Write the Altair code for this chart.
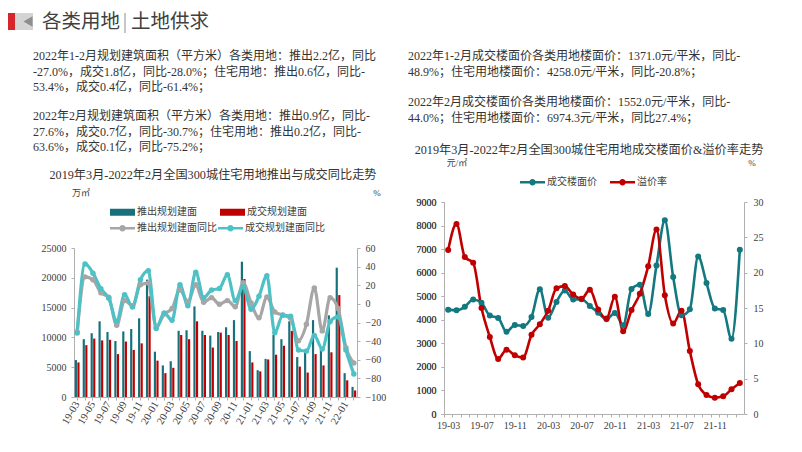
import json
import altair as alt
import pandas as pd

# ---------------- data ----------------
MONTHS = ["19-03", "19-04", "19-05", "19-06", "19-07", "19-08", "19-09", "19-10", "19-11", "19-12",
          "20-01", "20-02", "20-03", "20-04", "20-05", "20-06", "20-07", "20-08", "20-09", "20-10", "20-11", "20-12",
          "21-01", "21-02", "21-03", "21-04", "21-05", "21-06", "21-07", "21-08", "21-09", "21-10", "21-11", "21-12",
          "22-01", "22-02"]
LEFT_LABELS = ["19-03", "19-05", "19-07", "19-09", "19-11", "20-01", "20-03", "20-05", "20-07",
               "20-09", "20-11", "21-01", "21-03", "21-05", "21-07", "21-09", "21-11", "22-01"]
RIGHT_LABELS = ["19-03", "19-07", "19-11", "20-03", "20-07", "20-11", "21-03", "21-07", "21-11"]

BAR_SERIES = ["推出规划建面", "成交规划建面"]
LAUNCH = [6200, 9700, 10700, 12700, 10900, 9400, 11000, 11400, 13200, 19700,
          7600, 5300, 6000, 11100, 11200, 15200, 11100, 10300, 10900, 11700, 12900, 22700,
          7700, 4500, 6400, 10400, 9700, 12700, 6700, 7600, 12900, 8000, 13700, 21700,
          4000, 1700]
DEAL = [5800, 8700, 9800, 9500, 9600, 7200, 9300, 7900, 9000, 16900,
        6100, 4000, 4900, 10400, 9700, 12700, 10400, 8300, 10800, 10400, 9400, 19800,
        5800, 4300, 6300, 7100, 8600, 11100, 5100, 4100, 7200, 5300, 7500, 17100,
        2800, 1100]

YOY_SERIES = ["推出规划建面同比", "成交规划建面同比"]
LAUNCH_YOY = [-30, 29, 26, 12, 7, -23, 3.5, -2, 20.5, 22.3,
              -25, -11, -5, 15, 2.4, 20.5, 1.7, 6.7, -0.4, 3.5, -3, 22.7,
              1, -15, 7.4, -8.6, -12, -15.4, -39.6, -22, 17, -29, 6.7, -5,
              -47, -63.6]
DEAL_YOY = [-31.4, 42.9, 33, 16.3, 6, -18.6, 9.9, -3.3, 25.9, 35.5,
            -26.4, -9.7, -17.5, 20.5, -1.9, 34, 6.7, 14.8, 16.6, 31.2, 3.5, 18.4,
            -5.8, 8.1, 30.1, -31, -12.2, -13.2, -49.5, -50.6, -33.9, -48.4, -19, -14,
            -49.5, -75.2]

PRICE_SERIES = ["成交楼面价", "溢价率"]
PRICE = [4430, 4400, 4550, 4860, 4720, 4180, 4080, 3490, 3780, 3740,
         4120, 5300, 4090, 4760, 5240, 4860, 4870, 4590, 4300, 4020, 4290, 3770,
         5310, 5490, 4240, 6300, 8220, 5820, 4190, 4450, 6690, 5560, 4480, 4410,
         3190, 6974]
PREMIUM = [23.2, 26.9, 22.2, 21.4, 15.0, 10.9, 7.8, 9.1, 8.3, 8.0,
           11.2, 12.7, 14.6, 17.8, 18.1, 16.9, 16.3, 17.6, 14.8, 13.5, 16.6, 11.7,
           14.7, 17.0, 20.9, 26.1, 16.8, 12.8, 14.6, 8.9, 4.2, 2.7, 2.3, 2.5,
           3.5, 4.4]
PRICE_MAX = 9000     # left axis top (元/㎡)
PREMIUM_MAX = 30     # right axis top (%)

HEADER_A = "各类用地"
HEADER_B = "土地供求"
LEFT_TEXT_1 = ("2022年1-2月规划建筑面积（平方米）各类用地：推出2.2亿，同比\n"
               "-27.0%，成交1.8亿，同比-28.0%；住宅用地：推出0.6亿，同比-\n"
               "53.4%，成交0.4亿，同比-61.4%；")
LEFT_TEXT_2 = ("2022年2月规划建筑面积（平方米）各类用地：推出0.9亿，同比-\n"
               "27.6%，成交0.7亿，同比-30.7%；住宅用地：推出0.2亿，同比-\n"
               "63.6%，成交0.1亿，同比-75.2%；")
RIGHT_TEXT_1 = ("2022年1-2月成交楼面价各类用地楼面价：1371.0元/平米，同比-\n"
                "48.9%；住宅用地楼面价：4258.0元/平米，同比-20.8%；")
RIGHT_TEXT_2 = ("2022年2月成交楼面价各类用地楼面价：1552.0元/平米，同比-\n"
                "44.0%；住宅用地楼面价：6974.3元/平米，同比27.4%；")
LEFT_TITLE = "2019年3月-2022年2月全国300城住宅用地推出与成交同比走势"
RIGHT_TITLE = "2019年3月-2022年2月全国300城住宅用地成交楼面价&溢价率走势"

# ---------------- style ----------------
FONT = "Liberation Serif, Noto Sans CJK SC"
TXT = "#333333"
AXC = "#404040"
DOM = "#b0b0b0"
TEAL_BAR = "#17707A"
TEAL = "#13787F"
RED = "#C00000"
GRAY = "#A6A6A6"
CYAN = "#4EC1C6"
BAR_SYM = "M-1,-0.28H1V0.28H-1Z"
LINE_SYM = "M-1,-0.1H1V0.1H-1Z M-0.26,0A0.26,0.26 0 1,1 0.26,0A0.26,0.26 0 1,1 -0.26,0Z"

one = pd.DataFrame({"t": [""]})


def txt(s, x, y, size=12, align="left", baseline="middle", color=TXT, lh=None):
    kw = dict(align=align, baseline=baseline, fontSize=size, font=FONT, color=color)
    if lh:
        kw.update(lineBreak="\n", lineHeight=lh)
    return alt.Chart(pd.DataFrame({"t": [s]})).mark_text(**kw).encode(
        text="t:N", x=alt.value(x), y=alt.value(y))


def rect(x, x2, y, y2, color):
    return alt.Chart(one).mark_rect(color=color).encode(
        x=alt.value(x), x2=alt.value(x2), y=alt.value(y), y2=alt.value(y2))


def rule(x, x2, y, y2, color, w=1):
    return alt.Chart(one).mark_rule(color=color, strokeWidth=w).encode(
        x=alt.value(x), x2=alt.value(x2), y=alt.value(y), y2=alt.value(y2))


def legend(x, y, sym, colpad):
    return alt.Legend(orient="none", legendX=x, legendY=y, direction="horizontal", title=None,
                      symbolType=sym, symbolSize=625, symbolStrokeWidth=0, columnPadding=colpad,
                      labelOffset=2, labelFont=FONT, labelFontSize=10, labelColor=AXC)


def expr(labels):
    return "indexof(" + json.dumps(labels) + ", datum.value) >= 0 ? datum.value : ''"


# ---------------- left chart (origin = plot top-left) ----------------
bars_df = pd.DataFrame({"month": MONTHS * 2,
                        "series": [BAR_SERIES[0]] * 36 + [BAR_SERIES[1]] * 36,
                        "value": LAUNCH + DEAL})
yoy_df = pd.DataFrame({"month": MONTHS * 2,
                       "series": [YOY_SERIES[0]] * 36 + [YOY_SERIES[1]] * 36,
                       "value": LAUNCH_YOY + DEAL_YOY})

x_left = alt.X("month:N", sort=MONTHS, title=None,
               scale=alt.Scale(paddingInner=0.4, paddingOuter=0.1),
               axis=alt.Axis(values=MONTHS, labelExpr=expr(LEFT_LABELS), labelAngle=300,
                             labelOverlap=False, labelPadding=2, tickSize=3, tickColor=DOM,
                             domainColor=DOM, labelFontSize=10.5))

bars = alt.Chart(bars_df).mark_bar().encode(
    x=x_left,
    xOffset=alt.XOffset("series:N", sort=BAR_SERIES,
                        scale=alt.Scale(paddingInner=0.15, paddingOuter=0)),
    y=alt.Y("value:Q", title=None, scale=alt.Scale(domain=[0, 25000], nice=False),
            axis=alt.Axis(orient="left", values=[0, 5000, 10000, 15000, 20000, 25000], format="d",
                          tickSize=3, labelPadding=5, tickColor=DOM, domainColor=DOM,
                          labelFontSize=10)),
    color=alt.Color("series:N", sort=BAR_SERIES,
                    scale=alt.Scale(domain=BAR_SERIES, range=[TEAL_BAR, RED]),
                    legend=legend(36, -48.5, BAR_SYM, 23)),
)

yoy_y = alt.Y("value:Q", title=None, scale=alt.Scale(domain=[-100, 60], nice=False),
              axis=alt.Axis(orient="right", values=[-100, -80, -60, -40, -20, 0, 20, 40, 60],
                            tickSize=3, labelPadding=5, tickColor=DOM, domainColor=DOM,
                            labelFontSize=10))
yoy_scale = alt.Scale(domain=YOY_SERIES, range=[GRAY, CYAN])
yoy_line = alt.Chart(yoy_df).mark_line(strokeWidth=3.2, interpolate="monotone").encode(
    x=x_left, y=yoy_y,
    stroke=alt.Stroke("series:N", sort=YOY_SERIES, scale=yoy_scale, legend=None))
yoy_pts = alt.Chart(yoy_df).mark_circle(size=30, opacity=1).encode(
    x=x_left, y=yoy_y,
    color=alt.Color("series:N", sort=YOY_SERIES, scale=yoy_scale,
                    legend=legend(36, -32.5, LINE_SYM, 1)))
yoy = alt.layer(yoy_line, yoy_pts)

left_deco = [
    rect(-66, -59, -235, -218, "#D7262B"),
    rect(-59, -41, -235, -218, "#D4D4D4"),
    alt.Chart(one).mark_point(shape="triangle-left", filled=True, size=110, color="#8E8E8E",
                              opacity=1).encode(x=alt.value(-46), y=alt.value(-226.5)),
    txt(HEADER_A, -32, -226, size=19.5, color="#404040"),
    rule(51, 51, -235, -215, "#8E8E8E", 1),
    txt(HEADER_B, 57, -226, size=19.5, color="#404040"),
    txt(LEFT_TEXT_1, -41, -197, size=12, baseline="top", lh=15.7),
    txt(LEFT_TEXT_2, -41, -137, size=12, baseline="top", lh=15.7),
    txt(LEFT_TITLE, 139, -73, size=12.2, align="center"),
    txt("万㎡", 7, -55, size=9, align="center", color=AXC),
    txt("%", 303, -55, size=9, align="center", color=AXC),
    rule(325.5, 325.5, 52, 53, "#FFFFFF", 1),
]

left = alt.layer(bars, yoy, *left_deco).resolve_scale(
    y="independent", color="independent").properties(width=283, height=149)

# ---------------- right chart (origin shares the left plot's top; plot spans -46..166) ----------------
price_df = pd.DataFrame({"month": MONTHS, "series": PRICE_SERIES[0], "value": PRICE})
prem_df = pd.DataFrame({"month": MONTHS, "series": PRICE_SERIES[1], "value": PREMIUM})
pts_df = pd.concat([price_df, prem_df], ignore_index=True)

x_right = alt.X("month:N", sort=MONTHS, title=None,
                scale=alt.Scale(type="band", paddingInner=0, paddingOuter=0),
                axis=alt.Axis(values=MONTHS, labelExpr=expr(RIGHT_LABELS), labelAngle=0,
                              labelOverlap=False, labelPadding=3, tickSize=3, tickColor=DOM,
                              domainColor=DOM, tickOffset=-4.17, labelOffset=4.17,
                              labelFontSize=10))
pscale = alt.Scale(domain=PRICE_SERIES, range=[TEAL, RED])
price_scale = alt.Scale(domain=[0, PRICE_MAX], range=[166, -46], nice=False)
price_axis = alt.Axis(orient="left", values=list(range(0, PRICE_MAX + 1, 1000)), format="d",
                      tickSize=3, labelPadding=5, tickColor=DOM, domainColor=DOM, labelFontSize=10)
prem_y = alt.Y("value:Q", title=None,
               scale=alt.Scale(domain=[0, PREMIUM_MAX], range=[166, -46], nice=False),
               axis=alt.Axis(orient="right", values=[0, 5, 10, 15, 20, 25, 30], tickSize=3,
                             labelPadding=6, tickColor=DOM, domainColor=DOM, labelFontSize=10))

price_line = alt.Chart(price_df).mark_line(strokeWidth=2.6, interpolate="monotone").encode(
    x=x_right, y=alt.Y("value:Q", title=None, scale=price_scale, axis=price_axis),
    stroke=alt.Stroke("series:N", sort=PRICE_SERIES, scale=pscale, legend=None))
# markers of both series drawn on the left-axis pixel scale (premium converted to that axis' units)
all_pts = alt.Chart(pts_df).transform_calculate(
    yv=f"datum.series == '{PRICE_SERIES[1]}' ? datum.value * {PRICE_MAX / PREMIUM_MAX} : datum.value"
).mark_circle(size=36, opacity=1).encode(
    x=x_right, y=alt.Y("yv:Q", title=None, scale=price_scale, axis=price_axis),
    color=alt.Color("series:N", sort=PRICE_SERIES, scale=pscale,
                    legend=legend(76, -78.5, LINE_SYM, 13)))
prem_line = alt.Chart(prem_df).mark_line(strokeWidth=2.6, interpolate="monotone").encode(
    x=x_right, y=prem_y,
    stroke=alt.Stroke("series:N", sort=PRICE_SERIES, scale=pscale, legend=None))

right_deco = [
    rule(-43.5, -43.5, -200, -199, "#FFFFFF", 1),
    txt(RIGHT_TEXT_1, -36, -197, size=12, baseline="top", lh=16),
    txt(RIGHT_TEXT_2, -36, -151, size=12, baseline="top", lh=16),
    txt(RIGHT_TITLE, 145, -98, size=12.2, align="center"),
    txt("元/㎡", 13, -85, size=9, align="center", color=AXC),
    txt("%", 308, -85, size=9, align="center", color=AXC),
]

right = alt.layer(alt.layer(price_line, prem_line).resolve_scale(y="independent"),
                  all_pts, *right_deco).resolve_scale(
    y="independent", color="independent").properties(width=300, height=166)

chart = alt.hconcat(left, right, spacing=0).resolve_scale(
    color="independent", stroke="independent"
).properties(
    padding={"left": 0, "top": 4, "right": 0, "bottom": 0}
).configure_view(strokeWidth=0).configure_axis(
    grid=False, labelFont=FONT, labelColor=AXC, domainWidth=1
)

chart.save("out.html", embed_options={"renderer": "svg", "actions": False})
